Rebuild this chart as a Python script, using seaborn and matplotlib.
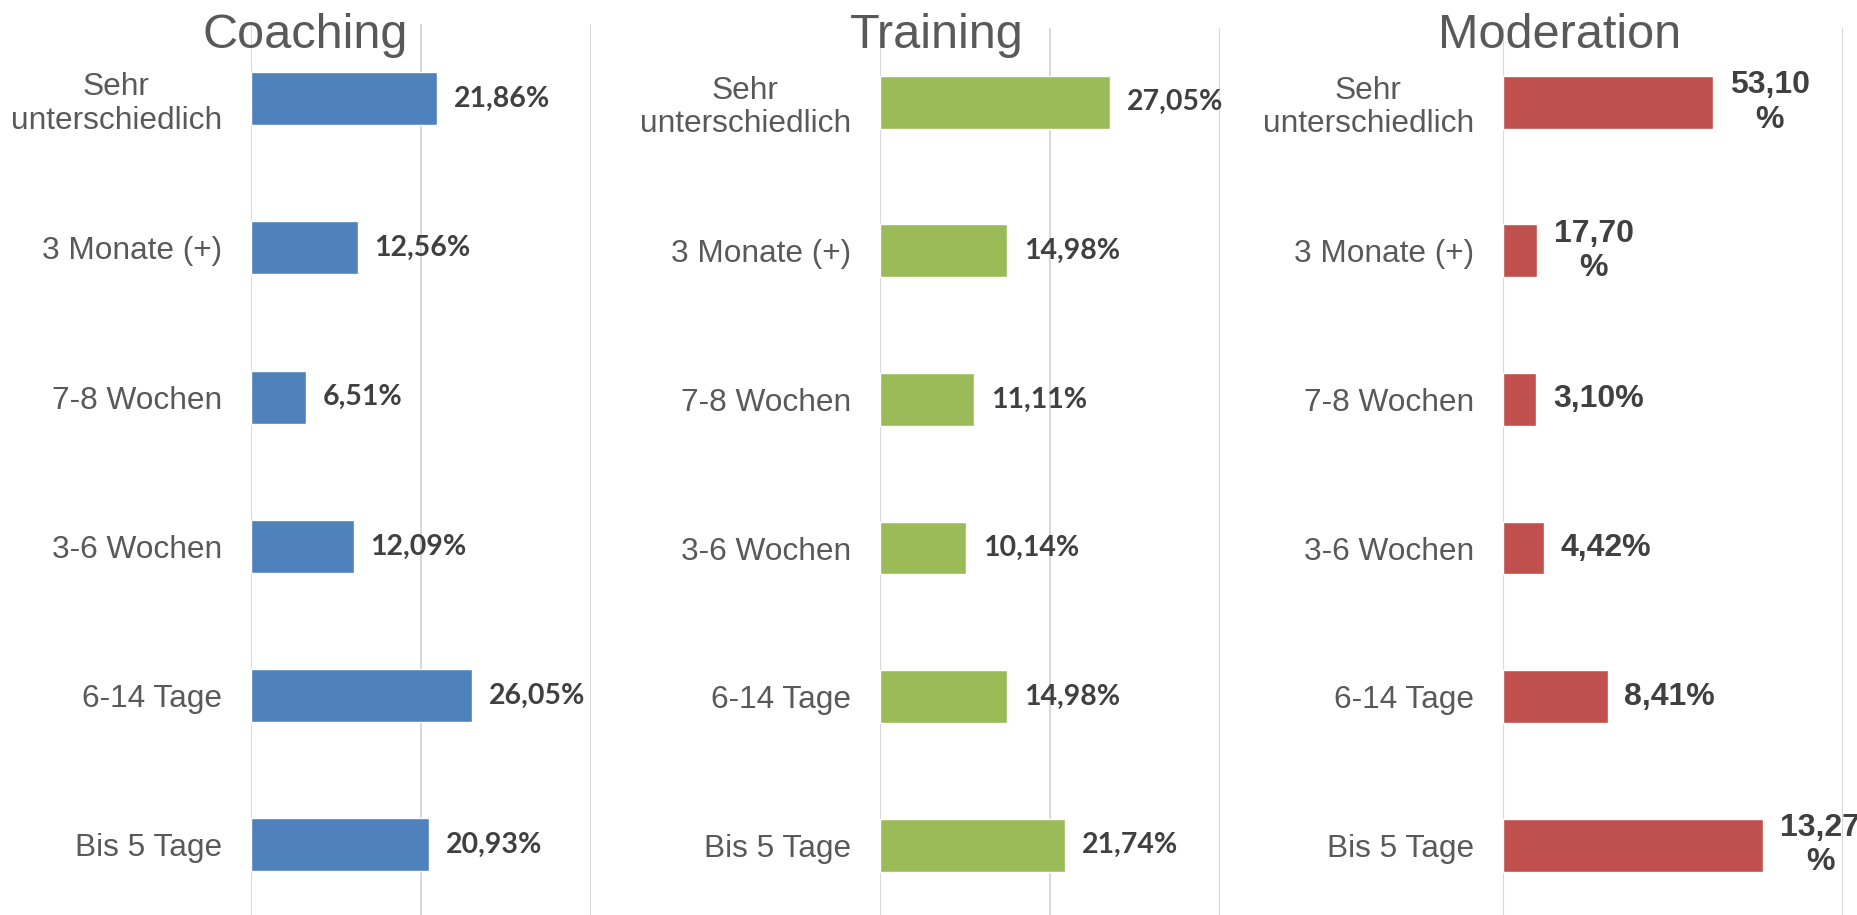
import numpy as np
import pandas as pd
import matplotlib
matplotlib.use('Agg')
import matplotlib.pyplot as plt
import seaborn as sns

sns.set_style('white')
plt.rcParams['font.family'] = ['Liberation Sans', 'DejaVu Sans']

# categories (top to bottom)
categories = ['Sehr\nunterschiedlich', '3 Monate (+)', '7-8 Wochen',
              '3-6 Wochen', '6-14 Tage', 'Bis 5 Tage']

# Coaching / Training: bars and labels agree
coaching = [21.86, 12.56, 6.51, 12.09, 26.05, 20.93]
training = [27.05, 14.98, 11.11, 10.14, 14.98, 21.74]

# Moderation: bar lengths, labels as printed
moderation_bars = [30.9, 5.0, 4.9, 6.0, 15.4, 38.3]
moderation_labels = ['53,10\n%', '17,70\n%', '3,10%', '4,42%', '8,41%', '13,27\n%']

W, H = 1858, 915
fig = plt.figure(figsize=(W / 100, H / 100), dpi=100)

panels = [
    # title, values, labels, colour, axes left px, top px, xmax, ticks, title x, label font
    ('Coaching', coaching, None, '#4F81BD', 251, 24, 40, [0, 20, 40], 305, 'Lato', 20.5),
    ('Training', training, None, '#9BBB59', 880, 28, 40, [0, 20, 40], 937, 'Lato', 20.5),
    ('Moderation', moderation_bars, moderation_labels, '#C0504D', 1503, 28, 50, [0, 50], 1560,
     'Liberation Sans', 23),
]

for title, vals, labels, col, left, top, xmax, ticks, tx, lfont, lsize in panels:
    ax = fig.add_axes([left / W, 0, 340 / W, (H - top) / H])
    df = pd.DataFrame({'cat': categories, 'val': vals})
    sns.barplot(data=df, x='val', y='cat', orient='h', color=col, saturation=1,
                width=0.356, ax=ax)
    ax.set_xlim(0, xmax)
    ax.set_xticks(ticks)
    ax.set_xticklabels([])
    ax.set_ylim(5.47, -0.5)
    ax.grid(axis='x', color='#d9d9d9', linewidth=1.5)
    ax.grid(axis='y', visible=False)
    ax.set_axisbelow(True)
    for s in ax.spines.values():
        s.set_visible(False)
    ax.set_xlabel('')
    ax.set_ylabel('')
    ax.tick_params(axis='both', length=0)
    ax.tick_params(axis='y', pad=21, labelsize=22.8, labelcolor='#595959')
    for t in ax.get_yticklabels():
        t.set_multialignment('center')
        t.set_linespacing(1.15)

    if labels is None:
        labels = [f'{v:.2f}%'.replace('.', ',') for v in vals]
    for i, (v, lab) in enumerate(zip(vals, labels)):
        ax.annotate(lab, xy=(v, i), xytext=(12, 0), textcoords='offset points',
                    ha='left', va='center', multialignment='center',
                    fontsize=lsize, fontweight='bold', color='#404040',
                    family=[lfont, 'DejaVu Sans'], linespacing=1.2,
                    annotation_clip=False)

    fig.text(tx / W, (H - 48) / H, title, ha='center', va='baseline',
             fontsize=35, color='#595959')

fig.savefig('out.png', dpi=100)
